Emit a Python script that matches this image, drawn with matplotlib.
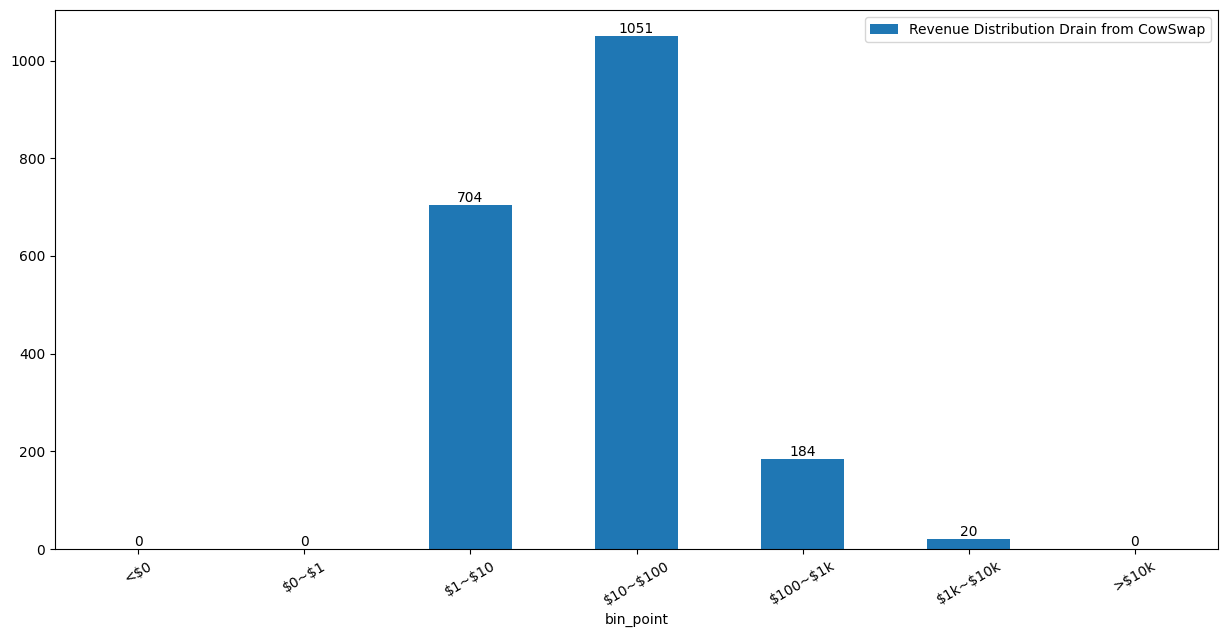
import matplotlib
matplotlib.use('Agg')
from matplotlib import pyplot as plt

plt.rcParams['text.parse_math'] = False

bins = ['<$0', '$0~$1', '$1~$10', '$10~$100', '$100~$1k', '$1k~$10k', '>$10k']
counts = [0, 0, 704, 1051, 184, 20, 0]

fig, ax = plt.subplots(figsize=(12.27, 6.37), dpi=100)
fig.subplots_adjust(left=0.0448, right=0.9927, top=0.9843, bottom=0.138)

x = list(range(len(bins)))
bars = ax.bar(x, counts, width=0.5, color='#1f77b4',
              label='Revenue Distribution Drain from CowSwap')
ax.bar_label(bars)

ax.set_xticks(x)
ax.set_xticklabels(bins, rotation=30)
ax.set_xlim(-0.5, len(bins) - 0.5)
ax.set_xlabel('bin_point')
ax.legend(loc='upper right')

fig.savefig('out.png', dpi=100)
